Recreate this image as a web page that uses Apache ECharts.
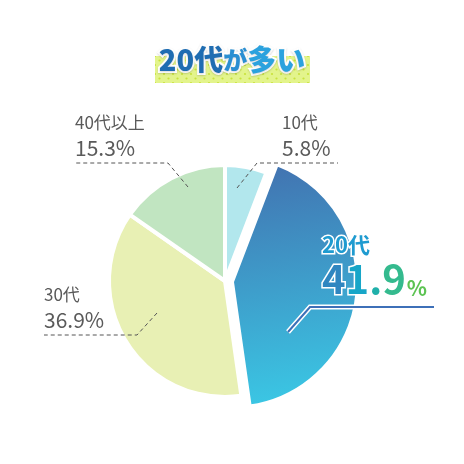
<!DOCTYPE html>
<html>
<head>
<meta charset="utf-8">
<script src="https://cdn.jsdelivr.net/npm/echarts@6/dist/echarts.min.js"></script>
<style>
html, body { margin: 0; padding: 0; background: #fff; }
#chart { width: 464px; height: 464px; }
</style>
</head>
<body>
<div id="chart"></div>
<script>
// 年代別の割合（%）
const categories = ['10代', '20代', '30代', '40代以上']
const values = [5.8, 41.9, 36.9, 15.3]
const titleParts = ['20代', 'が', '多い']
const highlightIndex = 1

const FONT = '"Noto Sans CJK JP", "Noto Sans", sans-serif'
const colors = ['#b2e7ed', null, '#e8f0b4', '#c1e5c1']
const digitColors = ['#2f86c0', '#17a6c8', '#1fb0aa', '#34ba8e']
const center = [225, 281]

// ラベル位置と引き出し線
const labelPos = {
  '10代': { x: 282, y: 161, va: 'bottom', line: [[237, 188], [257, 163], [338, 163]] },
  '40代以上': { x: 75, y: 161, va: 'bottom', line: [[188, 187], [168, 163], [76, 163]] },
  '30代': { x: 44, y: 333, va: 'bottom', line: [[157, 313], [137, 335], [44, 335]] },
  '20代': { x: 322, y: 231, va: 'top', line: [[288, 332], [310, 307], [434, 307]] }
}

// 20代 を中心から少しずらす
const total = values.reduce((a, b) => a + b, 0)
const before = values.slice(0, highlightIndex).reduce((a, b) => a + b, 0)
const midAngle = (before + values[highlightIndex] / 2) / total * Math.PI * 2
const shift = 7
const center2 = [center[0] + shift * Math.sin(midAngle), center[1] - shift * Math.cos(midAngle)]

const myChart = echarts.init(document.getElementById('chart'))

// タイトル背景のドット柄
const dots = document.createElement('canvas')
dots.width = 9
dots.height = 9
const ctx = dots.getContext('2d')
ctx.fillStyle = '#e3f48c'
ctx.fillRect(0, 0, 9, 9)
ctx.fillStyle = '#c8e23c'
ctx.beginPath(); ctx.arc(2, 2, 1.1, 0, Math.PI * 2); ctx.fill()
ctx.beginPath(); ctx.arc(6.5, 6.5, 1.1, 0, Math.PI * 2); ctx.fill()

const hidden = { color: 'rgba(0,0,0,0)', borderWidth: 0 }

function layout (params) {
  const p = labelPos[categories[params.dataIndex]]
  if (!p) return
  return { x: p.x, y: p.y, align: 'left', verticalAlign: p.va, labelLinePoints: p.line }
}

// 扇形の塗り（ラベルなし）
function sliceData (pick) {
  return categories.map((name, i) => {
    if (!pick(i)) return { name, value: values[i], itemStyle: hidden }
    if (i === highlightIndex) {
      return {
        name,
        value: values[i],
        itemStyle: {
          color: new echarts.graphic.LinearGradient(0.3, 0, 0.6, 1, [
            { offset: 0, color: '#4272b0' },
            { offset: 1, color: '#3acae6' }
          ])
        }
      }
    }
    return { name, value: values[i], itemStyle: { color: colors[i] } }
  })
}

// ラベル用（扇形は透明）
function labelData (pick) {
  return categories.map((name, i) => ({
    name,
    value: values[i],
    label: { show: pick(i) },
    labelLine: { show: pick(i) }
  }))
}

const isHigh = i => i === highlightIndex
const isBase = i => i !== highlightIndex

const dim = { fontFamily: FONT, fontSize: 40, fontWeight: 'bold', lineHeight: 40, textBorderColor: '#fff', textBorderWidth: 3 }
const highRich = {
  n: { fontFamily: FONT, fontSize: 22, fontWeight: 'bold', lineHeight: 28, color: '#1f9bd0', textBorderColor: '#fff', textBorderWidth: 3 },
  p: { fontFamily: FONT, fontSize: 21, fontWeight: 'bold', lineHeight: 40, verticalAlign: 'bottom', color: '#5cc352', textBorderColor: '#fff', textBorderWidth: 3, padding: [0, 0, 0, 1] }
}
digitColors.forEach((c, i) => {
  highRich['d' + i] = Object.assign({ color: c }, dim)
})

const titleStyle = { fontFamily: FONT, fontWeight: 900, lineHeight: 32, textBorderColor: '#fff', textBorderWidth: 4, textShadowColor: 'rgba(0,0,0,0.15)', textShadowBlur: 2, textShadowOffsetY: 1 }

const pieBase = {
  type: 'pie',
  startAngle: 90,
  clockwise: true,
  avoidLabelOverlap: false,
  emphasis: { disabled: true },
  silent: true
}

const option = {
  animation: false,
  title: {
    text: '{a|' + titleParts[0] + '}{b|' + titleParts[1] + '}{c|' + titleParts[2] + '}',
    left: 'center',
    top: 44,
    padding: 0,
    textStyle: {
      rich: {
        a: Object.assign({ fontSize: 29, color: '#1f6db2' }, titleStyle),
        b: Object.assign({ fontSize: 24, color: '#2a8fd2' }, titleStyle),
        c: Object.assign({ fontSize: 29, color: '#2ba2de' }, titleStyle)
      }
    }
  },
  graphic: [
    {
      type: 'rect',
      z: 0,
      shape: { x: 155, y: 56, width: 155, height: 27 },
      style: { fill: { image: dots, repeat: 'repeat' } }
    },
    {
      type: 'polyline',
      z: 100,
      shape: { points: labelPos['20代'].line },
      style: { stroke: '#3d70b8', lineWidth: 2, fill: null }
    }
  ],
  series: [
    Object.assign({}, pieBase, {
      z: 2,
      center: center,
      radius: 116,
      itemStyle: { borderColor: '#fff', borderWidth: 4 },
      label: { show: false },
      labelLine: { show: false },
      data: sliceData(isBase)
    }),
    Object.assign({}, pieBase, {
      z: 2,
      center: center2,
      radius: 126,
      itemStyle: { borderColor: '#fff', borderWidth: 4 },
      label: { show: false },
      labelLine: { show: false },
      data: sliceData(isHigh)
    }),
    Object.assign({}, pieBase, {
      z: 5,
      center: center,
      radius: 116,
      itemStyle: hidden,
      label: {
        position: 'outside',
        formatter: p => '{n|' + p.name + '}\n{v|' + p.value.toFixed(1) + '%}',
        rich: {
          n: { fontFamily: FONT, fontSize: 17, lineHeight: 24, color: '#5a5a5a' },
          v: { fontFamily: FONT, fontSize: 21, lineHeight: 26, color: '#5a5a5a' }
        }
      },
      labelLine: { lineStyle: { color: '#555', width: 1, type: [4, 3] } },
      labelLayout: layout,
      data: labelData(isBase)
    }),
    Object.assign({}, pieBase, {
      z: 5,
      center: center2,
      radius: 126,
      itemStyle: hidden,
      label: {
        position: 'outside',
        formatter: p => '{n|' + p.name + '}\n' +
          p.value.toFixed(1).split('').map((c, i) => '{d' + i + '|' + c + '}').join('') + '{p|%}',
        rich: highRich
      },
      labelLine: { lineStyle: { color: '#fff', width: 5 } },
      labelLayout: layout,
      data: labelData(isHigh)
    })
  ]
}

myChart.setOption(option)
window.addEventListener('resize', () => {
  myChart.resize()
})
</script>
</body>
</html>
